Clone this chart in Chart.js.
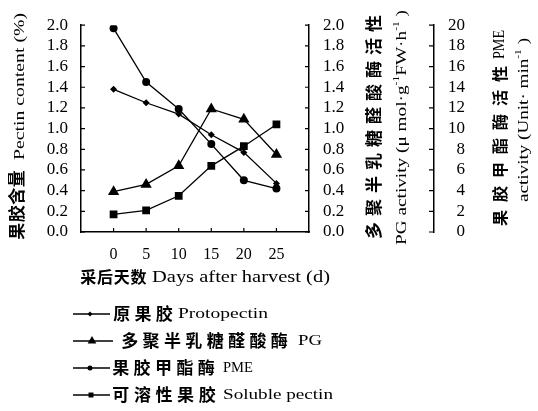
<!DOCTYPE html>
<html>
<head>
<meta charset="utf-8">
<script src="https://cdn.jsdelivr.net/npm/chart.js@4.4.1/dist/chart.umd.min.js"></script>
<style>
  html, body { margin: 0; padding: 0; background: #fff; }
  #wrap { width: 538px; height: 411px; }
</style>
</head>
<body>
<div id="wrap"><canvas id="pectinChart" width="538" height="411"></canvas></div>
<script>
// days after harvest
const days = [0, 5, 10, 15, 20, 25];
// pectin content (%)
const protopectin = [1.38, 1.25, 1.14, 0.94, 0.77, 0.47];
const solublePectin = [0.17, 0.21, 0.35, 0.64, 0.83, 1.04];
// PG activity (umol/g FW/h)
const pgActivity = [0.39, 0.46, 0.64, 1.19, 1.09, 0.75];
// PME activity (Unit/min)
const pmeActivity = [19.7, 14.5, 11.9, 8.5, 5.0, 4.2];

// tick labels
const xTicks = [0, 5, 10, 15, 20, 25];
const pectinTicks = [0, 0.2, 0.4, 0.6, 0.8, 1.0, 1.2, 1.4, 1.6, 1.8, 2.0];
const pgTicks = [0, 0.2, 0.4, 0.6, 0.8, 1.0, 1.2, 1.4, 1.6, 1.8, 2.0];
const pmeTicks = [0, 2, 4, 6, 8, 10, 12, 14, 16, 18, 20];

const CN = '"Noto Sans CJK SC", sans-serif';
const EN = '"Liberation Serif", "Times New Roman", serif';

Chart.defaults.color = '#000';

function toPoints(arr) {
  return days.map((d, i) => ({ x: d, y: arr[i] }));
}

// chinese text: one glyph per slot, spread over width w
function spreadChars(ctx, text, x, y, w, font) {
  ctx.font = font;
  ctx.textAlign = 'center';
  const chars = Array.from(text);
  const pitch = w / chars.length;
  chars.forEach((c, i) => ctx.fillText(c, x + pitch * (i + 0.5), y));
}

// latin text (with optional superscripts) squeezed/stretched to width w
function fitRun(ctx, parts, x, y, w, size) {
  const fonts = parts.map(p => (p.sup ? Math.round(size * 0.62) : size) + 'px ' + EN);
  let nat = 0;
  const widths = parts.map((p, i) => {
    ctx.font = fonts[i];
    const m = ctx.measureText(p.t).width;
    nat += m;
    return m;
  });
  ctx.save();
  ctx.translate(x, y);
  ctx.scale(w / nat, 1);
  ctx.textAlign = 'left';
  let cx = 0;
  parts.forEach((p, i) => {
    ctx.font = fonts[i];
    ctx.fillText(p.t, cx, p.sup ? -size * 0.38 : 0);
    cx += widths[i];
  });
  ctx.restore();
}

// rotate so text reads bottom to top; in there u = -screenY
function vertical(ctx, cx, draw) {
  ctx.save();
  ctx.translate(cx, 0);
  ctx.rotate(-Math.PI / 2);
  draw();
  ctx.restore();
}

const inwardTicks = {
  id: 'inwardTicks',
  afterDraw(chart) {
    const { ctx, chartArea, scales } = chart;
    ctx.save();
    ctx.strokeStyle = '#000';
    ctx.lineWidth = 1.2;
    ctx.beginPath();
    scales.y.ticks.forEach(t => {
      const p = scales.y.getPixelForValue(t.value);
      ctx.moveTo(chartArea.left, p);
      ctx.lineTo(chartArea.left + 4, p);
    });
    scales.y2.ticks.forEach(t => {
      const p = scales.y2.getPixelForValue(t.value);
      ctx.moveTo(chartArea.right, p);
      ctx.lineTo(chartArea.right - 4, p);
    });
    scales.y3.ticks.forEach(t => {
      const p = scales.y3.getPixelForValue(t.value);
      ctx.moveTo(scales.y3.left, p);
      ctx.lineTo(scales.y3.left - 5, p);
    });
    scales.x.ticks.forEach(t => {
      const p = scales.x.getPixelForValue(t.value);
      ctx.moveTo(p, chartArea.bottom);
      ctx.lineTo(p, chartArea.bottom - 4);
    });
    ctx.stroke();
    ctx.restore();
  }
};

const titlesAndLegend = {
  id: 'titlesAndLegend',
  afterDraw(chart) {
    const ctx = chart.ctx;
    ctx.save();
    ctx.fillStyle = '#000';
    ctx.textBaseline = 'middle';

    // left axis title
    vertical(ctx, 17, () => spreadChars(ctx, '果胶含量', -240, 0, 70, 'bold 17px ' + CN));
    vertical(ctx, 20, () => fitRun(ctx, [{ t: 'Pectin content (%)' }], -160, 0, 147, 15));

    // PG axis title
    vertical(ctx, 374, () => spreadChars(ctx, '多聚半乳糖醛酸酶活性', -242, 0, 230, 'bold 17px ' + CN));
    vertical(ctx, 402, () => fitRun(ctx, [
      { t: 'PG activity (μ mol·g' }, { t: '-1', sup: true },
      { t: 'FW·h' }, { t: '-1', sup: true }, { t: ' )' }
    ], -245, 0, 235, 15));

    // PME axis title
    vertical(ctx, 500, () => {
      spreadChars(ctx, '果胶甲酯酶活性', -230, 0, 168, 'bold 16px ' + CN);
      fitRun(ctx, [{ t: 'PME' }], -59, 0, 29, 16);
    });
    vertical(ctx, 524, () => fitRun(ctx, [
      { t: 'activity (Unit· min' }, { t: '-1', sup: true }, { t: ' )' }
    ], -202, 0, 164, 15));

    // x axis title
    spreadChars(ctx, '采后天数', 80, 277, 67, 'bold 16px ' + CN);
    fitRun(ctx, [{ t: 'Days after harvest (d)' }], 152, 278, 178, 16);

    // legend
    const rows = [
      { ds: 0, y: 314, x2: 110, mx: 90, r: 2.5, cn: '原果胶', cx: 111, cw: 64, en: 'Protopectin', ex: 178, ew: 90 },
      { ds: 1, y: 341, x2: 113, mx: 92, r: 5, cn: '多聚半乳糖醛酸酶', cx: 119, cw: 171, en: 'PG', ex: 298, ew: 24 },
      { ds: 2, y: 368, x2: 110, mx: 90, r: 2.5, cn: '果胶甲酯酶', cx: 110, cw: 107, en: 'PME', ex: 223, ew: 30 },
      { ds: 3, y: 395, x2: 110, mx: 91, r: 3.5, cn: '可溶性果胶', cx: 110, cw: 108, en: 'Soluble pectin', ex: 223, ew: 110 }
    ];
    rows.forEach(row => {
      const ds = chart.data.datasets[row.ds];
      ctx.strokeStyle = '#000';
      ctx.lineWidth = 1.3;
      ctx.beginPath();
      ctx.moveTo(73, row.y);
      ctx.lineTo(row.x2, row.y);
      ctx.stroke();
      Chart.helpers.drawPoint(ctx, { pointStyle: ds.pointStyle, rotation: 0, radius: row.r, borderWidth: 0 }, row.mx, row.y);
      ctx.fillStyle = '#000';
      spreadChars(ctx, row.cn, row.cx, row.y, row.cw, 'bold 17px ' + CN);
      fitRun(ctx, [{ t: row.en }], row.ex, row.y, row.ew, 15);
    });
    ctx.restore();
  }
};

function series(label, arr, axis, style, r) {
  return {
    label: label,
    data: toPoints(arr),
    yAxisID: axis,
    borderColor: '#000',
    backgroundColor: '#000',
    borderWidth: 1.3,
    pointStyle: style,
    pointRadius: r,
    pointBorderWidth: 0,
    pointBackgroundColor: '#000',
    tension: 0
  };
}

const tickFont = { family: EN, size: 17 };
const noGrid = { display: false, drawTicks: false };
const axisBorder = { display: true, color: '#000', width: 1.5 };

new Chart(document.getElementById('pectinChart'), {
  type: 'line',
  data: {
    datasets: [
      series('原果胶 Protopectin', protopectin, 'y', 'rectRot', 3.5),
      series('多聚半乳糖醛酸酶 PG', pgActivity, 'y2', 'triangle', 6.5),
      series('果胶甲酯酶 PME', pmeActivity, 'y3', 'circle', 4),
      series('可溶性果胶 Soluble pectin', solublePectin, 'y', 'rect', 5.5)
    ]
  },
  options: {
    responsive: false,
    animation: false,
    layout: { padding: { top: 20, left: 0, right: 73, bottom: 0 } },
    plugins: { legend: { display: false }, tooltip: { enabled: false } },
    scales: {
      x: {
        type: 'linear', min: -5, max: 30,
        afterBuildTicks: s => { s.ticks = xTicks.map(v => ({ value: v })); },
        afterFit: s => { s.height = 179; },
        grid: noGrid, border: axisBorder,
        ticks: { font: { family: EN, size: 16 }, padding: 13, maxRotation: 0, autoSkip: false }
      },
      y: {
        position: 'left', min: 0, max: 2,
        afterBuildTicks: s => { s.ticks = pectinTicks.map(v => ({ value: v })); },
        afterFit: s => { s.width = 81; },
        grid: noGrid, border: axisBorder,
        ticks: { font: tickFont, padding: 13, autoSkip: false, callback: v => v.toFixed(1) }
      },
      y2: {
        position: 'right', min: 0, max: 2,
        afterBuildTicks: s => { s.ticks = pgTicks.map(v => ({ value: v })); },
        afterFit: s => { s.width = 125; },
        grid: noGrid, border: axisBorder,
        ticks: { font: tickFont, padding: 14, autoSkip: false, callback: v => v.toFixed(1) }
      },
      y3: {
        position: 'right', min: 0, max: 20,
        afterBuildTicks: s => { s.ticks = pmeTicks.map(v => ({ value: v })); },
        afterFit: s => { s.width = 31; },
        grid: noGrid, border: axisBorder,
        ticks: { font: tickFont, padding: 15, autoSkip: false, crossAlign: 'far', callback: v => String(v) }
      }
    }
  },
  plugins: [inwardTicks, titlesAndLegend]
});
</script>
</body>
</html>
